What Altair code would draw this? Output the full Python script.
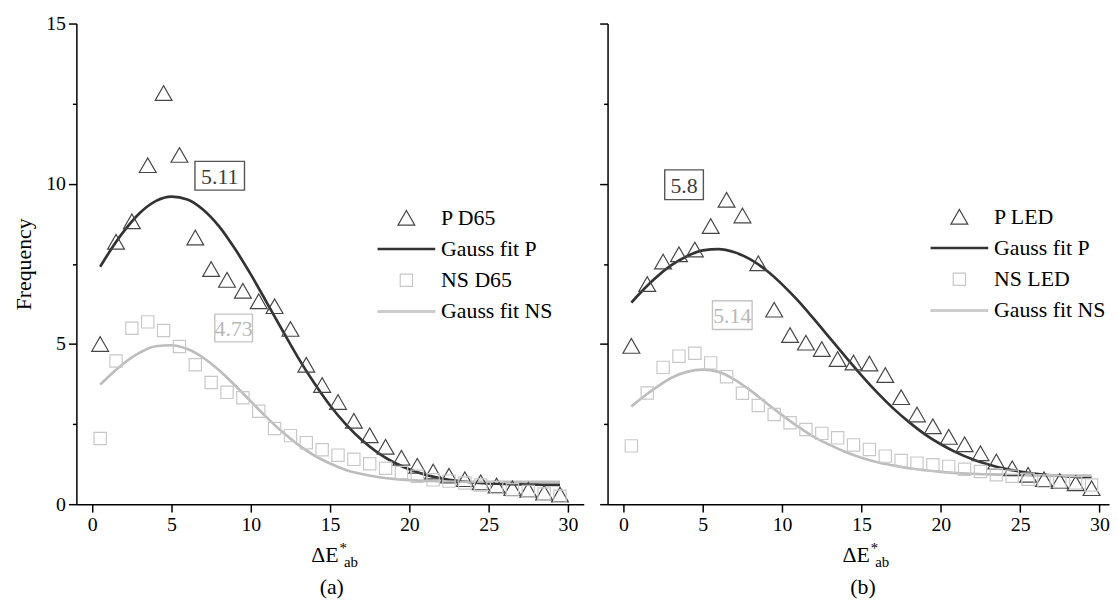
import altair as alt
import pandas as pd

# ---------------- data ----------------
bins = [0.5, 1.5, 2.5, 3.5, 4.5, 5.5, 6.5, 7.5, 8.5, 9.5,
        10.5, 11.5, 12.5, 13.5, 14.5, 15.5, 16.5, 17.5, 18.5, 19.5,
        20.5, 21.5, 22.5, 23.5, 24.5, 25.5, 26.5, 27.5, 28.5, 29.5]
fit_x = [0.5, 1, 2, 3, 4, 5, 6, 7, 8, 9, 10, 11, 12, 13, 14, 15, 16, 17, 18, 19,
         20, 21, 22, 23, 24, 25, 26, 27, 28, 29, 29.5]

p_d65 = [5.0, 8.19, 8.83, 10.58, 12.83, 10.9, 8.32, 7.34, 7.0, 6.66,
         6.33, 6.18, 5.47, 4.35, 3.72, 3.19, 2.6, 2.15, 1.79, 1.45,
         1.2, 1.02, 0.89, 0.78, 0.68, 0.58, 0.5, 0.45, 0.36, 0.3]
ns_d65 = [2.05, 4.47, 5.49, 5.69, 5.42, 4.92, 4.35, 3.80, 3.49, 3.32,
          2.90, 2.36, 2.14, 1.92, 1.70, 1.53, 1.40, 1.26, 1.12, 0.99,
          0.87, 0.76, 0.72, 0.66, 0.6, 0.52, 0.45, 0.4, 0.32, 0.25]
fit_p_d65 = [7.41, 7.81, 8.52, 9.09, 9.46, 9.60, 9.51, 9.19, 8.67, 7.97,
             7.17, 6.30, 5.42, 4.56, 3.78, 3.08, 2.49, 2.00, 1.61, 1.31,
             1.09, 0.92, 0.81, 0.73, 0.68, 0.65, 0.63, 0.62, 0.61, 0.60, 0.60]
fit_ns_d65 = [3.73, 3.97, 4.40, 4.73, 4.93, 4.96, 4.84, 4.57, 4.18, 3.71,
              3.21, 2.71, 2.25, 1.85, 1.52, 1.27, 1.07, 0.94, 0.85, 0.79,
              0.75, 0.73, 0.71, 0.70, 0.70, 0.70, 0.70, 0.70, 0.70, 0.70, 0.70]

p_led = [4.94, 6.87, 7.57, 7.80, 7.95, 8.68, 9.50, 9.01, 7.52, 6.07,
         5.28, 5.04, 4.84, 4.53, 4.42, 4.39, 4.03, 3.34, 2.80, 2.43,
         2.10, 1.87, 1.59, 1.33, 1.12, 0.92, 0.78, 0.72, 0.65, 0.5]
ns_led = [1.82, 3.47, 4.27, 4.62, 4.71, 4.41, 3.98, 3.46, 3.08, 2.80,
          2.54, 2.33, 2.21, 2.07, 1.85, 1.71, 1.50, 1.36, 1.28, 1.23,
          1.18, 1.09, 1.02, 0.92, 0.87, 0.78, 0.72, 0.70, 0.66, 0.6]
fit_p_led = [6.29, 6.56, 7.05, 7.45, 7.74, 7.92, 7.96, 7.86, 7.64, 7.30,
             6.86, 6.35, 5.78, 5.19, 4.60, 4.02, 3.48, 2.99, 2.56, 2.18,
             1.87, 1.61, 1.40, 1.24, 1.11, 1.02, 0.95, 0.90, 0.87, 0.84, 0.84]
fit_ns_led = [3.05, 3.25, 3.62, 3.94, 4.13, 4.20, 4.13, 3.89, 3.55, 3.16,
              2.78, 2.42, 2.10, 1.85, 1.63, 1.45, 1.31, 1.21, 1.12, 1.06,
              1.01, 0.97, 0.95, 0.93, 0.92, 0.91, 0.90, 0.90, 0.89, 0.89, 0.89]

x_ticks = [0, 5, 10, 15, 20, 25, 30]
y_ticks = [0, 5, 10, 15]
y_minor = [2.5, 7.5, 12.5]

ann_a_labels = ["5.11", "4.73"]
ann_a_x = [8.04, 8.92]
ann_a_y = [10.25, 5.5]
ann_b_labels = ["5.8", "5.14"]
ann_b_x = [3.82, 6.86]
ann_b_y = [9.97, 5.9]

# ---------------- styles ----------------
FONT = "Liberation Serif"
DARK = "#333333"
DARK_PT = "#464646"
LIGHT = "#bdbdbd"
LIGHT_PT = "#c8c8c8"
TRI = "M-0.85,0.74L0.85,0.74L0,-0.74Z"
SQR = "M-0.62,-0.62H0.62V0.62H-0.62Z"
LINE = "M-2.85,-0.07H2.85V0.07H-2.85Z"


def box_path(hw, hh):
    return f"M{-hw},{-hh}H{hw}V{hh}H{-hw}Z"


def panel(p_vals, ns_vals, pfit, nsfit, p_name, ns_name,
          ann_labels, ann_x, ann_y, ann_boxes, ann_dark,
          leg_x, leg_y, width, xmax, sub, show_y, title_dx):
    order = [p_name, "Gauss fit P", ns_name, "Gauss fit NS"]
    xs = alt.Scale(domain=[-1, xmax], nice=False, zero=False)
    ys = alt.Scale(domain=[0, 15], nice=False, zero=False)
    leg = alt.Legend(orient="none", legendX=leg_x, legendY=leg_y, title=None,
                     labelFont=FONT, labelFontSize=22, labelColor="black",
                     symbolSize=400, labelOffset=24, rowPadding=9.5, padding=0,
                     symbolStrokeWidth=1.2, symbolFillColor="transparent",
                     labelLimit=300)
    shape_sc = alt.Scale(domain=order, range=[TRI, LINE, SQR, LINE])
    stroke_sc = alt.Scale(domain=order, range=[DARK_PT, DARK, LIGHT_PT, LIGHT])

    xaxis = alt.Axis(values=x_ticks, title=None, grid=False, tickSize=8,
                     labelPadding=3, labelFontSize=20, labelFont=FONT,
                     labelColor="black", domainColor="black", tickColor="black",
                     domainWidth=1.5, tickWidth=1.5, labelFlush=False)
    yaxis = alt.Axis(values=y_ticks, title="Frequency" if show_y else None,
                     labels=show_y, grid=False, tickSize=8, labelPadding=3,
                     labelFontSize=20, labelFont=FONT, labelColor="black",
                     domainColor="black", tickColor="black", domainWidth=1.5,
                     tickWidth=1.5, titleFont=FONT, titleFontSize=22,
                     titleFontWeight="normal", titleColor="black",
                     titlePadding=10, labelFlush=False)
    X = alt.X("x:Q", scale=xs, axis=xaxis)

    pts_df = pd.DataFrame({"x": bins + bins, "y": p_vals + ns_vals,
                           "series": [p_name] * len(bins) + [ns_name] * len(bins)})
    fit_df = pd.DataFrame({"x": fit_x + fit_x, "y": pfit + nsfit,
                           "series": ["Gauss fit P"] * len(fit_x) + ["Gauss fit NS"] * len(fit_x)})

    lines = alt.Chart(fit_df).mark_line(strokeWidth=2.7, interpolate="monotone").encode(
        x=X,
        y=alt.Y("y:Q", scale=ys, axis=None),
        stroke=alt.Stroke("series:N", scale=stroke_sc, legend=leg),
    )
    pts = alt.Chart(pts_df).mark_point(filled=False, size=400, strokeWidth=1.2, opacity=1).encode(
        x=X,
        y=alt.Y("y:Q", scale=ys, axis=yaxis),
        shape=alt.Shape("series:N", scale=shape_sc, legend=leg),
        stroke=alt.Stroke("series:N", scale=stroke_sc, legend=leg),
    )
    minor = alt.Chart(pd.DataFrame({"y": y_minor})).mark_point(opacity=0).encode(
        y=alt.Y("y:Q", scale=ys,
                axis=alt.Axis(values=y_minor, labels=False, domain=False, tickSize=4,
                              title=None, orient="left", grid=False, tickColor="black",
                              tickWidth=1.5)),
    )
    layers = [lines, pts, minor]

    for i in range(len(ann_labels)):
        adf = pd.DataFrame({"x": [ann_x[i]], "y": [ann_y[i]], "label": [ann_labels[i]]})
        bstroke = "#555555" if ann_dark[i] else "#c4c4c4"
        tcol = "#3c3c3c" if ann_dark[i] else "#b8b8b8"
        hw, hh = ann_boxes[i]
        layers.append(alt.Chart(adf).mark_point(shape=box_path(hw, hh), size=400, filled=False,
                                                stroke=bstroke, strokeWidth=1.4, opacity=1).encode(
            x=X, y=alt.Y("y:Q", scale=ys, axis=None)))
        layers.append(alt.Chart(adf).mark_text(font=FONT, fontSize=22, color=tcol,
                                               align="center", baseline="middle", dy=1).encode(
            x=X, y=alt.Y("y:Q", scale=ys, axis=None), text="label:N"))

    one = pd.DataFrame({"k": [0]})
    cx = title_dx
    layers.append(alt.Chart(one).mark_text(text="ΔE", font=FONT, fontSize=22, color="black",
                                           align="right", baseline="alphabetic").encode(
        x=alt.value(cx + 264.7), y=alt.value(543)))
    layers.append(alt.Chart(one).mark_text(text="*", font=FONT, fontSize=15, color="black",
                                           align="left", baseline="alphabetic").encode(
        x=alt.value(cx + 265.5), y=alt.value(534)))
    layers.append(alt.Chart(one).mark_text(text="ab", font=FONT, fontSize=15, color="black",
                                           align="left", baseline="alphabetic").encode(
        x=alt.value(cx + 270), y=alt.value(548)))
    layers.append(alt.Chart(one).mark_text(text=sub, font=FONT, fontSize=22, color="black",
                                           align="center", baseline="alphabetic").encode(
        x=alt.value(cx + 257.7), y=alt.value(576)))

    return alt.layer(*layers).resolve_axis(y="independent").properties(width=width, height=485)


left = panel(p_d65, ns_d65, fit_p_d65, fit_ns_d65, "P D65", "NS D65",
             ann_a_labels, ann_a_x, ann_a_y, [(2.5, 1.45), (1.9, 1.4)], [True, False],
             322, 185, 512, 31, "(a)", True, 0)
right = panel(p_led, ns_led, fit_p_led, fit_ns_led, "P LED", "NS LED",
              ann_b_labels, ann_b_x, ann_b_y, [(1.95, 1.5), (2.0, 1.45)], [True, False],
              344, 184, 506, 30.6, "(b)", False, 0)

chart = alt.hconcat(left, right, spacing=24, bounds="flush").resolve_scale(
    x="independent", y="independent", shape="independent", stroke="independent"
).resolve_legend(shape="independent", stroke="independent").properties(
    padding={"left": 5, "top": 3, "right": 0, "bottom": 0}
).configure(
    background="white", font=FONT
).configure_view(
    stroke=None
).configure_axis(
    labelFont=FONT, titleFont=FONT
).configure_text(
    font=FONT
).configure_legend(
    labelFont=FONT
)

chart.save("out.html", embed_options={"renderer": "svg", "actions": False})
